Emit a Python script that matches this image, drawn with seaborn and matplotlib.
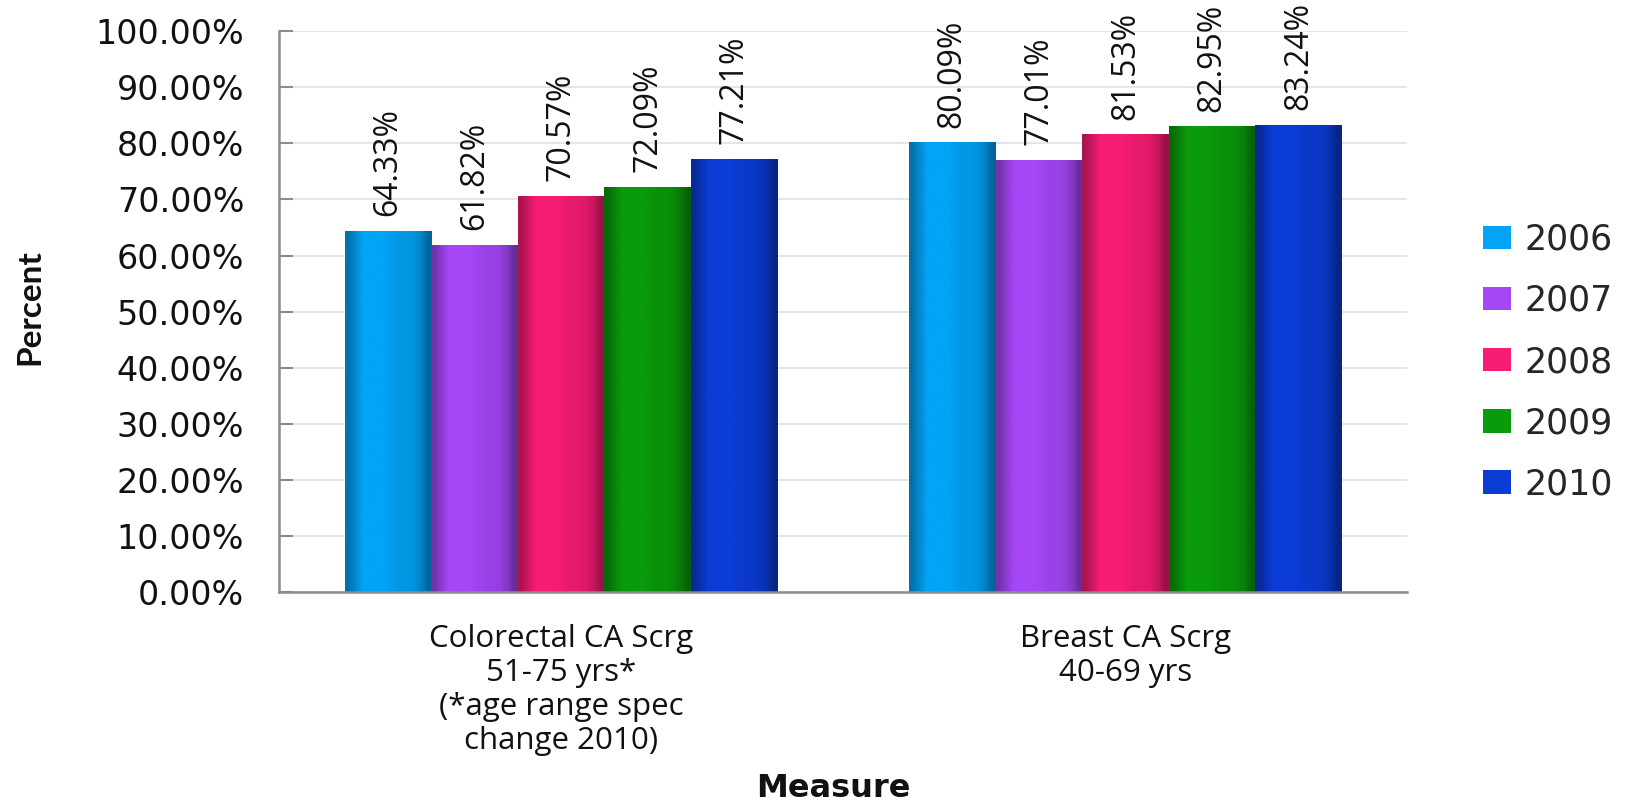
import matplotlib
matplotlib.use("Agg")
import matplotlib.pyplot as plt
import matplotlib.colors as mcolors
import seaborn as sns
import pandas as pd
import numpy as np

categories = ["Colorectal CA Scrg\n51-75 yrs*\n(*age range spec\nchange 2010)",
              "Breast CA Scrg\n40-69 yrs"]
years = ["2006", "2007", "2008", "2009", "2010"]
colorectal = [64.33, 61.82, 70.57, 72.09, 77.21]
breast = [80.09, 77.01, 81.53, 82.95, 83.24]
colors = ["#03A3F5", "#A647F7", "#F71C74", "#0A9B0A", "#0B3CD6"]
yticks = [0, 10, 20, 30, 40, 50, 60, 70, 80, 90, 100]

rows = []
for cat, vals in zip(categories, [colorectal, breast]):
    for y, v in zip(years, vals):
        rows.append({"Measure": cat, "Year": y, "Percent": v})
df = pd.DataFrame(rows)

sns.set_theme(style="white")
plt.rcParams['font.family'] = ['DejaVu Sans']

fig = plt.figure(figsize=(16.33, 8.01), dpi=100)
ax = fig.add_axes([0.1709, 0.261, 0.691, 0.70])

sns.barplot(data=df, x="Measure", y="Percent", hue="Year", palette=colors,
            width=0.767, saturation=1, ax=ax, linewidth=0, legend=True)

# bevel-like horizontal shading over each bar (positions taken from the drawn patches)
profile = np.array([0.70, 0.85, 1.0, 1.0, 1.0, 1.0, 0.96, 0.93, 0.93, 0.90, 0.80, 0.62])
xlim = ax.get_xlim()
for cont in ax.containers:
    for bar in cont.patches:
        x0, y0, w, h = bar.get_x(), bar.get_y(), bar.get_width(), bar.get_height()
        base = np.array(mcolors.to_rgb(bar.get_facecolor()))
        arr = np.clip(base[None, None, :] * profile[None, :, None], 0, 1)
        ax.imshow(arr, extent=[x0, x0 + w, y0, y0 + h], aspect="auto",
                  interpolation="bilinear", zorder=bar.get_zorder() + 0.1)
ax.set_xlim(xlim)

ax.set_ylim(0, 100)
ax.set_yticks(yticks)
ax.set_yticklabels([f"{t:.2f}%" for t in yticks], fontsize=24, color="#111111")
ax.yaxis.grid(True, color="#D9DEEC", linewidth=1.1)
ax.set_axisbelow(True)
for s in ["top", "right"]:
    ax.spines[s].set_visible(False)
for s in ["left", "bottom"]:
    ax.spines[s].set_color("#8C8C8C")
    ax.spines[s].set_linewidth(1.8)
ax.tick_params(axis="y", which="major", left=True, direction="in", length=10,
               width=1.5, color="#8C8C8C", pad=25)
ax.tick_params(axis="x", which="major", bottom=False, pad=17)

lab_font = ["Open Sans", "DejaVu Sans"]
for lbl in ax.get_xticklabels():
    lbl.set_fontfamily(lab_font)
    lbl.set_fontsize(22.5)
    lbl.set_linespacing(1.18)
    lbl.set_color("#111111")

ax.set_xlabel("Measure", fontsize=23, fontweight="bold", color="#111111")
ax.xaxis.label.set_va("baseline")
ax.xaxis.set_label_coords(0.4916, -0.366)
ax.set_ylabel("Percent", fontsize=24, fontweight="bold",
              family=["Lato", "DejaVu Sans"], color="#111111")
ax.yaxis.label.set_va("center")
ax.yaxis.set_label_coords(-0.2205, 0.508)

for cont in ax.containers:
    ax.bar_label(cont, labels=[f"{v:.2f}%" for v in cont.datavalues], rotation=90,
                 padding=11, fontsize=23, family=lab_font, color="#111111")

handles, labels = ax.get_legend_handles_labels()
ax.get_legend().remove()
fig.legend(handles, labels, loc="center left", bbox_to_anchor=(0.908, 0.548),
           frameon=False, fontsize=25, handlelength=0.8, handleheight=0.65,
           handletextpad=0.4, labelspacing=0.78, borderaxespad=0, borderpad=0)

fig.savefig("out.png", dpi=100)
